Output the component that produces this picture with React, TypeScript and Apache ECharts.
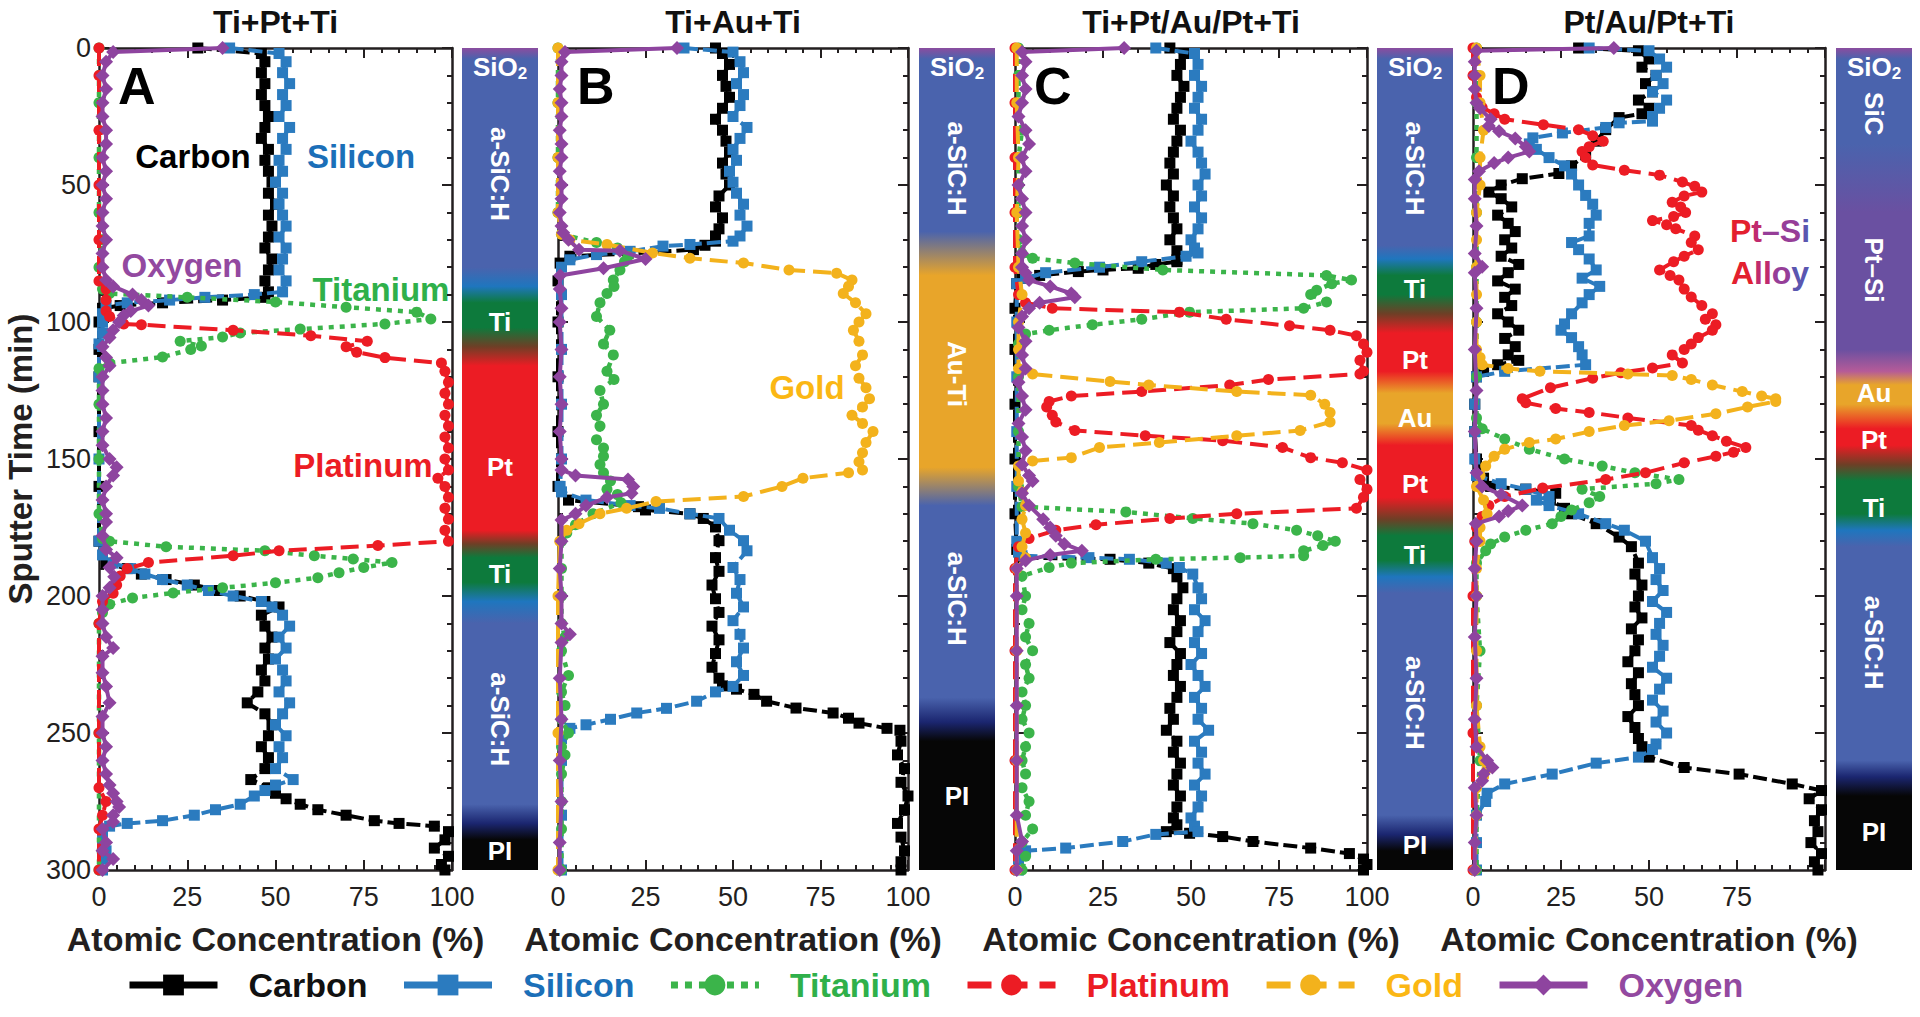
import React, { useEffect, useRef } from 'react';
import * as echarts from 'echarts';

type Pt = [number, number]; // [sputter time (min), atomic concentration (%)]

// ---------------- Panel A : Ti+Pt+Ti ----------------
const A_carbon: Pt[] = [[0,28],[2,46],[5,47],[9,46],[13,47],[17,46],[21,47],[25,48],[29,47],[33,46],[37,48],[41,47],[45,48],[49,49],[53,48],[57,50],[61,48],[65,49],[69,48],[73,47],[77,49],[81,48],[85,47],[89,48],[91,47],[92,35],[93,18],[94,6],[95,1],[100,0],[110,0],[120,0],[140,0],[160,0],[180,0],[188,2],[190,8],[192,12],[194,19],[196,27],[198,34],[200,40],[202,47],[204,51],[207,46],[211,47],[215,49],[219,47],[223,48],[227,46],[231,47],[235,45],[239,42],[243,47],[247,49],[251,48],[255,46],[259,48],[263,47],[267,43],[270,48],[272,50],[274,53],[276,57],[278,62],[280,70],[282,78],[283,85],[284,95],[286,99],[289,98],[292,95],[295,99],[298,97],[300,98]];
const A_silicon: Pt[] = [[0,37],[2,51],[5,53],[9,52],[13,54],[17,52],[21,53],[25,51],[29,54],[33,52],[37,53],[41,51],[45,52],[49,50],[53,52],[57,51],[61,52],[65,53],[69,51],[73,53],[77,52],[81,51],[85,53],[89,52],[90,44],[91,30],[92,20],[93,8],[94,2],[97,1],[100,1],[104,1],[108,0],[120,0],[150,0],[180,0],[185,1],[188,4],[190,9],[192,13],[194,18],[196,25],[198,31],[200,38],[202,46],[204,49],[207,52],[211,54],[215,51],[219,53],[223,50],[227,52],[231,53],[235,51],[239,54],[243,52],[247,50],[251,53],[255,51],[259,52],[263,50],[267,55],[269,50],[271,47],[273,44],[276,40],[278,33],[280,27],[282,18],[283,8],[284,3],[286,1],[290,1],[293,2],[296,1],[300,1]];
const A_titanium: Pt[] = [[0,0],[20,0],[40,0],[60,0],[70,1],[80,0],[88,1],[89.6,3],[91,25],[92.7,50],[94.6,70],[96.4,90],[98.9,94],[100.7,81],[102.6,57],[104,40],[105.5,35],[107,23],[108.8,29],[110,26],[112.8,18],[115,3],[117,0],[130,0],[150,0],[170,0],[179,1],[180,3],[182,19],[183.5,47],[185.3,61],[186.5,72],[187.8,83],[189.6,75],[191.5,68],[193.3,62],[195.2,50],[197,35],[198.9,21],[200.7,9.5],[203,3],[206,1],[210,0],[250,0],[300,0]];
const A_platinum: Pt[] = [[0,0],[10,0],[30,0],[50,0],[70,0],[85,0],[88,2],[92,2],[96,2],[98,3],[100.7,7],[101,12],[103,38],[105,60],[107,76],[109,70],[111,73],[113,81],[115,97],[118,98],[122,99],[126,98],[130,99],[134,98],[138,99],[142,98],[146,99],[150,98],[154,99],[157,96],[160,98],[164,99],[168,98],[172,99],[176,98],[180,99],[181.6,79],[183.5,51],[185.3,38],[187.8,14],[190,8],[192.7,6],[196,5],[199,4],[202,1],[210,0],[250,0],[270,0],[275,2],[280,1],[285,0],[300,0]];
const A_oxygen: Pt[] = [[0,35],[1.5,4],[5,2],[10,1],[15,2],[20,1],[25,1],[30,2],[35,2],[40,1],[45,2],[50,1],[55,2],[60,1],[65,1],[70,2],[75,1],[80,1],[84.7,2],[87,4],[90,9.5],[92,12],[94,14],[96,9],[97.6,7],[100,5.7],[103,4],[105.7,3],[109,1],[113,2],[116,3],[120,1],[125,1],[130,1],[135,2],[140,1],[145,1],[150,3],[153,5],[156,4],[160,2],[165,1],[170,2],[173,2],[178,1],[183,2],[186,5],[189.6,3],[193,4.3],[197,3],[200,1],[205,1],[210,1],[215,2],[219,4],[222,1],[228,1],[233,2],[239,3],[244,1],[250,1],[255,2],[260,1],[265,2],[269,3],[272,4],[275,5],[277,5.7],[280,4],[282.5,4],[285,1],[290,2],[293,1],[296,4],[300,1]];

// ---------------- Panel B : Ti+Au+Ti ----------------
const B_carbon: Pt[] = [[0,45],[2,47],[6,49],[10,47],[14,48],[18,49],[22,47],[26,45],[30,47],[34,48],[38,49],[42,47],[46,48],[50,49],[54,46],[58,45],[62,47],[66,46],[68.6,45],[70.5,45],[72,42],[73.6,38.7],[75,20],[76,3.4],[78.5,0.6],[85,0],[100,0],[120,0],[140,0],[160,0],[165,3],[167.4,23],[168.6,25],[170,37.7],[171.7,41.5],[174.8,45],[179.8,46],[186,45],[191,46],[196,44],[201,45],[206,46],[211,44],[216,46],[221,45],[226,44],[230,46],[232.8,47],[234,51],[235.9,56],[238.4,59.6],[240.9,68],[242.7,78.6],[244.6,83],[246.4,86],[248.3,94],[249,97.7],[253,98],[258,97],[263,99],[268,98],[273,100],[278,99],[283,97],[288,98],[293,99],[297,98],[300,98]];
const B_silicon: Pt[] = [[0,36],[1.5,50],[5,52],[9,53],[13,51],[17,53],[21,52],[25,50],[29,54],[33,52],[37,50],[41,51],[45,49],[49,50],[53,51],[57,53],[61,52],[65,54],[68.6,52],[70.5,50],[71.7,37.7],[72.3,30],[74.2,20.6],[75.4,11],[77.3,3.4],[80,1],[90,1],[110,1],[130,1],[150,1],[160,0.6],[162,1],[165,8],[167,20.6],[168,29],[170,37.7],[171.7,46],[176,49],[179.8,53],[183.5,54],[189.6,50],[194,52],[199,51],[204,53],[209,50],[214,52],[219,53],[224,51],[229,53],[233,50],[235,45],[238.4,39.6],[241,31],[242.7,22.5],[245,15],[247,8],[248.3,3.4],[252,1],[260,1],[280,1],[300,1]];
const B_titanium: Pt[] = [[0,0],[20,0],[40,0],[60,0],[68,1],[71,11],[73,17],[76,20],[78,19],[81,17.7],[84.7,15.8],[87,16],[89.6,14],[93,12],[98,11],[103,14.8],[108,13],[112,15.8],[118,14],[121,16],[125,12],[130,13],[134,11],[138,12],[143,11],[146,13],[149,13],[152,12],[155,13],[158,15],[161,14],[163,17],[166,18],[170,10],[174,5],[177,2.5],[180,1],[190,1],[200,1],[210,1],[215,2],[220,1],[229,3],[235,1],[240,2],[245,1],[250,3],[255,1],[258,2],[265,1],[275,1],[285,1],[300,1]];
const B_gold: Pt[] = [[0,0],[20,0],[40,0],[60,0],[68,1],[70,3.4],[71.7,14],[74.8,27],[76.7,37.7],[78.5,53],[81,66],[82.2,79.6],[84.7,84],[87,83],[89.6,81.5],[93,85],[97,88],[100,86],[103,84.4],[107,86],[112,87],[116,85],[120.5,86],[124,88],[128,89],[131,87],[134,84],[137,87],[140,90],[144,88],[147.7,87],[151,86],[154,87],[155,83],[157,70],[160,64],[163.7,53],[165.5,28],[168,19.6],[170,12],[173.6,6],[176,2.5],[180,0.5],[200,0],[250,0],[300,0]];
const B_oxygen: Pt[] = [[0,34],[1.5,2],[5,1],[10,1],[15,0.5],[20,1],[25,1],[30,0.5],[35,1],[40,1],[45,0.5],[50,1],[55,1],[60,0.5],[65,1],[67.4,1.5],[70,3],[73.6,6],[74,17.7],[77,25],[80.4,13],[83,0.6],[88,0.5],[95,1],[100,0.5],[110,1],[120,0.5],[130,1],[140,0.5],[150,1],[154,1],[156,5],[157.5,20],[160,21.5],[162.5,21],[164,14],[167,8],[170,5],[172.3,1],[180,1],[190,0.5],[200,1],[210,1],[214,3.4],[217,1],[230,0.5],[245,1],[260,0.5],[275,1],[290,0.5],[300,0.5]];

// ---------------- Panel C : Ti+Pt/Au/Pt+Ti ----------------
const C_carbon: Pt[] = [[0,44],[2,48],[6,47],[10,46],[14,48],[18,47],[22,46],[26,45],[30,47],[34,46],[38,45],[42,44],[46,45],[50,43],[54,45],[58,44],[62,45],[66,46],[70,44],[74,46],[77.3,46],[78,46],[79,40],[80.4,35],[81,25],[81.6,18],[83,7],[84,2],[86,0.5],[95,0],[110,0],[130,0],[150,0],[170,0],[183,0.5],[186,2],[186.6,27],[188,38],[190,45],[193,46],[197,47.7],[201,46],[205,45],[209,47],[213,46],[217,44],[221,47],[225,46],[229,45],[233,47],[237,46],[241,44],[245,45],[249,43],[253,46],[257,45],[261,47],[265,46],[269,45],[273,47],[277,46],[281,45],[283.5,46],[286,43],[286.6,49.6],[287.8,59],[289.6,67.6],[292,84],[294,95],[296,99],[298,100],[300,99]];
const C_silicon: Pt[] = [[0,40],[2,51],[6,52],[10,51],[14,53],[18,52],[22,51],[26,53],[30,52],[34,50],[38,52],[42,53],[46,54],[50,52],[54,53],[58,51],[62,53],[66,52],[70,50],[73,51],[74.8,52],[76,48.6],[78,36],[80,24],[82,8.7],[84,3],[86,0.5],[100,0.5],[120,0.5],[140,0.5],[160,0.5],[180,0.5],[184,1],[185.3,2],[186,21],[186.6,32.5],[188,43],[189.6,46.7],[192,50.5],[197,52],[201,53],[205,51],[209,54],[213,52],[217,51],[221,53],[225,50],[229,52],[233,54],[237,51],[241,53],[245,52],[249,55],[253,51],[257,53],[261,52],[265,54],[269,51],[273,53],[277,52],[281,50],[284,51],[286,52],[287,40],[289.6,30.6],[292,14.4],[293,3],[296,1],[300,1]];
const C_titanium: Pt[] = [[0,1],[10,1],[20,1],[30,2],[40,1],[50,1],[60,1],[70,1],[75,2],[76.7,5],[78.5,17],[81,42],[83,88.5],[84.7,95.6],[86,90],[88.4,85.7],[90,84],[92.7,88.5],[95,82],[96.4,49.6],[99,36],[101,22],[103,9.7],[104.4,3],[108,1],[120,1],[140,1],[160,1],[167.4,2],[169.3,31.5],[171.7,50.5],[173.6,67.6],[176,80],[178,86],[180,91],[181.6,87.5],[183.5,82],[185.3,82],[186,64],[186.6,40],[188,16],[189.6,9.7],[192.7,2],[200,3],[205,2],[210,4],[215,3],[220,5],[225,3],[230,4],[235,2],[240,3],[245,2],[250,4],[255,3],[260,2],[265,3],[270,2],[275,4],[280,3],[285,5],[290,2],[295,3],[300,2]];
const C_platinum: Pt[] = [[0,0],[20,0],[40,0],[60,0],[80,0],[90,1],[93,3],[95,10.6],[96.4,46.7],[99,60],[101.4,78],[103,89.5],[105,97],[108,99],[111,100],[114,98],[118,99],[119,98],[121,72],[123,61],[125.4,36],[127,16],[129,9.7],[131,9],[134,10.6],[136.5,11.6],[139.6,17],[141.5,37],[143.3,59],[145.8,76],[149.5,84],[151.4,93],[154,100],[157.5,98],[161,100],[164,99],[168,97],[170,63],[171.7,44],[174,23],[176,11.6],[179,4],[182,1],[190,0],[220,0],[260,0],[300,0]];
const C_gold: Pt[] = [[0,0.5],[20,0.5],[40,1],[60,0.5],[80,1],[90,2],[100,1],[110,1],[117,1],[119,5],[121.7,27],[123,38],[125.4,63],[126.7,84],[130,88],[133,89.5],[136.5,89.5],[139.6,81],[141.5,63],[144,41],[145.8,24],[149.5,16],[150.7,5],[152.6,1],[158,1],[162,2],[167,3],[172,2],[177,3],[182,2],[186,3],[190,0.5],[220,0.5],[260,0.5],[300,0.5]];
const C_oxygen: Pt[] = [[0,31],[1.5,2],[5,3],[10,2],[15,3],[20,2],[25,1],[30,3],[35,4],[40,2],[45,3],[50,1],[55,2],[60,3],[65,2],[70,3],[75,2],[80,2],[82,3],[84.7,4],[87,10],[89.6,16],[91,17],[93,7],[95,4],[98,2],[102,1],[107,3],[112,2],[117,3],[122,1],[127,2],[132,3],[137,1],[142,2],[147,3],[152,2],[156,4],[158,5],[162.5,2],[167,4],[172,8],[175,10],[178,11.6],[181,14],[183.5,19],[185,10],[187,3],[190,0.5],[200,0.5],[220,0.5],[240,0.5],[260,0.5],[280,0.5],[289.6,2],[293,0.5],[300,0.5]];

// ---------------- Panel D : Pt/Au/Pt+Ti ----------------
const D_carbon: Pt[] = [[0,30],[1,47],[4,50],[7,48],[10,52],[13,49],[16,51],[19,47],[22,50],[24,48],[25.4,41.5],[29.8,37.7],[34,35],[39,32],[43,28],[45.8,24.4],[47.7,14],[50,8],[52.6,4.5],[55,8],[58,11],[61,7],[64,10],[67,12],[70,9],[73,11],[76,8],[79,13],[82,10],[85,7],[88,12],[91,9],[94,11],[97,7],[100,10],[103,13],[106,9],[109,12],[112,10],[114,13],[115.6,7],[118,3],[120,1],[130,0.5],[140,0.5],[150,1],[157,3],[160,5],[161,15],[162.5,23.5],[165,22],[168,26],[170,28],[173.6,35],[178.5,41.5],[182,45],[188,47],[192,46],[196,48],[200,47],[204,46],[208,48],[212,45],[216,47],[220,46],[224,44],[228,47],[232,45],[236,46],[240,47],[244,44],[248,46],[252,47],[255,48],[258.8,50],[262.6,60],[265,75.6],[268.6,90.7],[271,99],[274,95.5],[278,99],[282,97],[286,98],[290,96],[294,99],[297,97],[300,98]];
const D_silicon: Pt[] = [[0,33],[1,50],[4,53],[7,55],[10,52],[13,54],[16,51],[19,55],[22,53],[25,51],[26.7,51],[27.3,41.5],[29,37.7],[31,25.4],[32.8,17],[35,16],[37,18],[40,21.6],[43,26],[46,28],[50,30],[53.8,32],[57,34],[61,35],[64,33],[68.6,33],[71,28],[73.6,30],[77,33],[81,35],[84,31],[87,36],[90,33],[93,31],[97,28],[100.7,26],[103,25],[105.7,28],[109,30],[112,31],[115.6,32],[118,9],[120,1],[130,0.5],[140,0.5],[150,0.5],[156,1],[159,8],[161,15],[163.7,21.6],[165,18],[167,21.6],[170,30],[173.6,37.7],[176,43],[180,49],[186,51],[190,53],[194,52],[198,54],[202,51],[206,55],[210,53],[214,52],[218,54],[222,53],[226,51],[230,55],[234,53],[238,51],[242,54],[246,52],[250,55],[254,52],[256,51],[258.8,47],[261,35],[265,22.5],[268.6,9],[272,4],[275,3.6],[280,1],[290,1],[300,1]];
const D_titanium: Pt[] = [[0,1],[20,1],[40,1],[60,1],[80,1],[100,1],[120,1],[135,1],[139,2.6],[142.7,9],[146.4,16],[150,26],[152.6,36.7],[155,46],[157.5,58.5],[159,52],[161,31],[163.7,36],[166,33],[168.6,28],[171,25],[173.6,22.5],[176,15],[178.5,9],[181,5],[183.5,3.6],[188,1],[200,1],[220,2],[240,1],[260,2],[280,1],[300,1]];
const D_platinum: Pt[] = [[0,0],[10,0],[18,1],[21.7,2.6],[24,6],[26,9],[28,20],[29.8,30],[32,34],[34,37],[36,33],[37.8,31],[40,32],[42.7,34],[44.6,43],[46.4,53],[48.9,59.5],[50.5,63],[52.6,65],[54,60],[56.3,56.6],[58,59],[60,60.4],[61.5,57],[63,51],[64.5,55],[66,57.6],[68.6,63],[71,62],[73.6,64],[76,60],[78,57],[81,53],[83,56],[84.7,58.5],[88,60],[90.9,62],[94,65],[97,68],[99,66],[101,69],[103,68],[105.7,64],[108,62],[110,60],[112,56.6],[115,59.5],[116.8,51],[118.5,42],[120.5,34],[124,22],[128,14],[129.5,15],[131.6,23.5],[133,33],[135,44],[137.8,62],[139.5,64],[141.5,68],[143.5,72],[145.8,77.5],[147.5,74],[149,69],[151.4,60],[155,49],[157.5,37.7],[160.6,19.8],[163.7,9],[167,4.5],[171,2.6],[175,1],[180,0.5],[200,0],[250,0],[300,0]];
const D_gold: Pt[] = [[0,1],[10,2],[20,2],[30,3],[40,2],[50,2],[60,1],[70,1],[80,1],[90,1],[100,1],[110,1],[113,2],[115.6,2.6],[117,10],[118,19],[119,44],[119.5,56.6],[121,62],[123,68],[125.4,76.5],[127,82],[128,86],[129,86],[131,78],[133.5,69],[136,55.7],[137.8,43],[140,33],[142.7,23.5],[144,16],[146.4,9],[149,6],[152.6,3.6],[156,2],[160,1],[165,3],[170,4],[175,2],[180,2],[190,1],[200,1],[220,1],[240,1],[255,2],[260,3],[263,4],[266,3],[270,1],[280,1],[300,0.5]];
const D_oxygen: Pt[] = [[0,40],[1,1],[5,0.5],[10,0.5],[15,0.5],[20,1],[22,2],[26,5],[28.5,4.5],[30.4,7.4],[33,12],[36,15],[37.8,16],[40,10],[42,6],[45,1.7],[48,0.5],[55,0.5],[65,1],[75,0.5],[79.8,2.6],[82,0.5],[95,1],[110,0.5],[125,1],[140,0.5],[155,1],[160,2.6],[163,8],[167,14],[169,10],[171,7.4],[173.6,0.8],[180,1],[190,0.5],[200,1],[215,0.5],[230,1],[245,0.5],[255,1],[260,4],[262.6,5.5],[265,3],[267.4,2.6],[270,0.5],[280,1],[290,0.5],[300,0.5]];

// ---------------- Categories / labels ----------------
const ELEMENTS = ['Carbon', 'Silicon', 'Titanium', 'Platinum', 'Gold', 'Oxygen'];
const PANEL_TITLES = ['Ti+Pt+Ti', 'Ti+Au+Ti', 'Ti+Pt/Au/Pt+Ti', 'Pt/Au/Pt+Ti'];
const PANEL_LETTERS = ['A', 'B', 'C', 'D'];
const PANEL_SERIES: (Pt[] | null)[][] = [
  [A_carbon, A_silicon, A_titanium, A_platinum, null, A_oxygen],
  [B_carbon, B_silicon, B_titanium, null, B_gold, B_oxygen],
  [C_carbon, C_silicon, C_titanium, C_platinum, C_gold, C_oxygen],
  [D_carbon, D_silicon, D_titanium, D_platinum, D_gold, D_oxygen],
];
const X_MIN = 0, X_MAX = 100, X_INTERVAL = 25;
const Y_MIN = 0, Y_MAX = 300, Y_INTERVAL = 50;

// Layer stack colour bars: [sputter time, colour]
const COL = { sio2: '#8b4d9f', sic: '#4a63ad', lblue: '#1f76be', green: '#0d7a3c', brown: '#6e3f26', red: '#ec1c24', orange: '#e8a52a', navy: '#1b2670', black: '#060606', ptsi: '#6a50a1', pink: '#b55b98' };
const A_layers: [number, string][] = [[0, COL.sio2], [4, COL.sic], [80, COL.sic], [87, COL.lblue], [93, COL.green], [102, COL.green], [109, COL.brown], [116, COL.red], [176, COL.red], [181, COL.brown], [186, COL.green], [195, COL.green], [202, COL.lblue], [210, COL.sic], [276, COL.sic], [283, COL.navy], [289, COL.black], [300, COL.black]];
const B_layers: [number, string][] = [[0, COL.sio2], [4, COL.sic], [67, COL.sic], [83, COL.orange], [153, COL.orange], [167, COL.sic], [237, COL.sic], [246, COL.navy], [253, COL.black], [300, COL.black]];
const C_layers: [number, string][] = [[0, COL.sio2], [4, COL.sic], [72, COL.sic], [77, COL.lblue], [83, COL.green], [90, COL.green], [97, COL.brown], [104, COL.red], [118, COL.red], [126, COL.orange], [137, COL.orange], [145, COL.red], [164, COL.red], [172, COL.brown], [178, COL.green], [187, COL.green], [193, COL.lblue], [199, COL.sic], [280, COL.sic], [287, COL.navy], [293, COL.black], [300, COL.black]];
const D_layers: [number, string][] = [[0, COL.sio2], [4, COL.sic], [35, COL.sic], [60, COL.ptsi], [110, COL.ptsi], [118, COL.pink], [123, COL.orange], [130, COL.orange], [139, COL.red], [145, COL.red], [152, COL.brown], [158, COL.green], [170, COL.green], [176, COL.lblue], [182, COL.sic], [260, COL.sic], [266, COL.navy], [273, COL.black], [300, COL.black]];
// [text, time, rotated]
const A_layerLabels: [string, number, boolean][] = [['SiO2', 7, false], ['a-SiC:H', 46, true], ['Ti', 100, false], ['Pt', 153, false], ['Ti', 192, false], ['a-SiC:H', 245, true], ['PI', 293, false]];
const B_layerLabels: [string, number, boolean][] = [['SiO2', 7, false], ['a-SiC:H', 44, true], ['Au-Ti', 119, true], ['a-SiC:H', 201, true], ['PI', 273, false]];
const C_layerLabels: [string, number, boolean][] = [['SiO2', 7, false], ['a-SiC:H', 44, true], ['Ti', 88, false], ['Pt', 114, false], ['Au', 135, false], ['Pt', 159, false], ['Ti', 185, false], ['a-SiC:H', 239, true], ['PI', 291, false]];
const D_layerLabels: [string, number, boolean][] = [['SiO2', 7, false], ['SiC', 24, true], ['Pt\u2013Si', 81, true], ['Au', 126, false], ['Pt', 143, false], ['Ti', 168, false], ['a-SiC:H', 217, true], ['PI', 286, false]];
const PANEL_LAYERS = [A_layers, B_layers, C_layers, D_layers];
const PANEL_LAYER_LABELS = [A_layerLabels, B_layerLabels, C_layerLabels, D_layerLabels];

// ---------------- Styles / layout ----------------
const FONT = '"Liberation Sans", Arial, Helvetica, sans-serif';
const INK = '#231f20';
const STYLE: Record<string, { color: string; text: string; symbol: string; size: number; dash: any; legendDash: any; width: number }> = {
  Carbon: { color: '#000000', text: '#111111', symbol: 'rect', size: 11, dash: [14, 5], legendDash: 'solid', width: 4 },
  Silicon: { color: '#2b7bbf', text: '#1b6fb8', symbol: 'rect', size: 11, dash: [14, 5], legendDash: 'solid', width: 4 },
  Titanium: { color: '#3bb44a', text: '#2fb04a', symbol: 'circle', size: 11, dash: [5, 6], legendDash: [7, 7], width: 4.5 },
  Platinum: { color: '#ec1c24', text: '#ec1c24', symbol: 'circle', size: 11, dash: [18, 8], legendDash: [24, 12], width: 4 },
  Gold: { color: '#f3b21c', text: '#fbb714', symbol: 'circle', size: 11, dash: [18, 8], legendDash: [24, 12], width: 4 },
  Oxygen: { color: '#8e449f', text: '#9349a0', symbol: 'diamond', size: 14, dash: 'solid', legendDash: 'solid', width: 4 },
};
const PLOTS = [{ left: 99, width: 353 }, { left: 558, width: 350 }, { left: 1015, width: 352 }, { left: 1473, width: 352 }];
const BARS = [{ left: 462, width: 76 }, { left: 919, width: 76 }, { left: 1377, width: 76 }, { left: 1836, width: 76 }];
const TOP = 48, HEIGHT = 822;

function buildOption(): any {
  const grid: any[] = [];
  const xAxis: any[] = [];
  const yAxis: any[] = [];
  const series: any[] = [];
  const lineAx = { show: true, onZero: false, lineStyle: { color: INK, width: 2.5 } };
  const tick = { show: true, inside: true, length: 10, lineStyle: { color: INK, width: 2 } };
  const minor = { show: true, splitNumber: 5, length: 5, lineStyle: { color: INK, width: 2 } };

  PLOTS.forEach((p, i) => {
    grid.push({ left: p.left, width: p.width, top: TOP, height: HEIGHT });
    xAxis.push({
      gridIndex: i, type: 'value', position: 'bottom', min: X_MIN, max: X_MAX, interval: X_INTERVAL,
      axisLine: lineAx, axisTick: tick, minorTick: minor, splitLine: { show: false },
      axisLabel: { fontSize: 27, color: INK, fontFamily: FONT, margin: 13, showMaxLabel: i !== 3 },
      name: 'Atomic Concentration (%)', nameLocation: 'middle', nameGap: 52,
      nameTextStyle: { fontSize: 34, fontWeight: 'bold', color: INK, fontFamily: FONT },
    });
    xAxis.push({
      gridIndex: i, type: 'value', position: 'top', min: X_MIN, max: X_MAX, interval: X_INTERVAL,
      axisLine: lineAx, axisTick: tick, minorTick: minor, splitLine: { show: false }, axisLabel: { show: false },
    });
    yAxis.push({
      gridIndex: i, type: 'value', position: 'left', inverse: true, min: Y_MIN, max: Y_MAX, interval: Y_INTERVAL,
      axisLine: lineAx, axisTick: tick, minorTick: minor, splitLine: { show: false },
      axisLabel: { show: i === 0, fontSize: 27, color: INK, fontFamily: FONT, margin: 8 },
      name: i === 0 ? 'Sputter Time (min)' : '', nameLocation: 'middle', nameGap: 62,
      nameTextStyle: { fontSize: 33, fontWeight: 'bold', color: INK, fontFamily: FONT },
    });
    yAxis.push({
      gridIndex: i, type: 'value', position: 'right', inverse: true, min: Y_MIN, max: Y_MAX, interval: Y_INTERVAL,
      axisLine: lineAx, axisTick: tick, minorTick: minor, splitLine: { show: false }, axisLabel: { show: false },
    });
    PANEL_SERIES[i].forEach((arr, k) => {
      if (!arr) return;
      const name = ELEMENTS[k];
      const s = STYLE[name];
      series.push({
        name, type: 'line', xAxisIndex: i * 2, yAxisIndex: i * 2, clip: false,
        data: arr.map(([t, c]) => [c, t]),
        symbol: s.symbol, symbolSize: s.size, showSymbol: true,
        itemStyle: { color: s.color },
        lineStyle: { color: s.color, width: s.width, type: s.dash },
        emphasis: { disabled: true }, silent: true, z: 2 + k,
      });
    });
  });

  BARS.forEach((b, j) => {
    const gi = PLOTS.length + j;
    grid.push({ left: b.left, width: b.width, top: TOP, height: HEIGHT });
    xAxis.push({ gridIndex: gi, type: 'value', min: 0, max: 1, show: false });
    yAxis.push({ gridIndex: gi, type: 'value', min: Y_MIN, max: Y_MAX, inverse: true, show: false });
    const stops = PANEL_LAYERS[j];
    const labels = PANEL_LAYER_LABELS[j];
    series.push({
      type: 'custom', xAxisIndex: 2 * PLOTS.length + j, yAxisIndex: 2 * PLOTS.length + j, silent: true,
      data: [[0, 0]],
      renderItem: (_params: any, api: any) => {
        const p0 = api.coord([0, Y_MIN]);
        const p1 = api.coord([1, Y_MAX]);
        const children: any[] = [{
          type: 'rect',
          shape: { x: p0[0], y: p0[1], width: p1[0] - p0[0], height: p1[1] - p0[1] },
          style: { fill: new echarts.graphic.LinearGradient(0, 0, 0, 1, stops.map(([t, c]) => ({ offset: (t - Y_MIN) / (Y_MAX - Y_MIN), color: c }))) },
        }];
        labels.forEach(([txt, t, rot]) => {
          const c = api.coord([0.5, t]);
          const isSio2 = txt === 'SiO2';
          children.push({
            type: 'text', x: c[0], y: c[1], rotation: rot ? -Math.PI / 2 : 0,
            style: {
              text: isSio2 ? '{m|SiO}{s|2}' : txt,
              fill: '#ffffff', fontSize: 26, fontWeight: 'bold', fontFamily: FONT,
              align: 'center', verticalAlign: 'middle',
              rich: isSio2 ? {
                m: { fill: '#ffffff', fontSize: 26, fontWeight: 'bold', fontFamily: FONT, lineHeight: 30 },
                s: { fill: '#ffffff', fontSize: 17, fontWeight: 'bold', fontFamily: FONT, lineHeight: 17, verticalAlign: 'bottom' },
              } : undefined,
            },
          });
        });
        return { type: 'group', children };
      },
    });
  });

  const graphic: any[] = [];
  PLOTS.forEach((p, i) => {
    graphic.push({ type: 'text', x: p.left + p.width / 2, y: 22, style: { text: PANEL_TITLES[i], fill: '#111', font: `bold 32px ${FONT}`, align: 'center', verticalAlign: 'middle' } });
    graphic.push({ type: 'text', x: p.left + 19, y: 86, style: { text: PANEL_LETTERS[i], fill: '#000', font: `bold 52px ${FONT}`, align: 'left', verticalAlign: 'middle' } });
  });
  const ann = (text: string, x: number, y: number, fill: string) => ({ type: 'text', x, y, style: { text, fill, font: `bold 33px ${FONT}`, align: 'center', verticalAlign: 'middle' } });
  graphic.push(ann('Carbon', 193, 156, '#000'));
  graphic.push(ann('Silicon', 361, 156, STYLE.Silicon.text));
  graphic.push(ann('Oxygen', 182, 265, STYLE.Oxygen.text));
  graphic.push(ann('Titanium', 381, 289, STYLE.Titanium.text));
  graphic.push(ann('Platinum', 363, 465, STYLE.Platinum.text));
  graphic.push(ann('Gold', 807, 387, STYLE.Gold.text));
  const rs = (fill: string) => ({ fill, fontSize: 32, fontWeight: 'bold', fontFamily: FONT });
  const richAlloy = { r: rs('#e3202e'), m: rs('#c02a6e'), p: rs('#963e98'), b: rs('#5a56b0') };
  graphic.push({ type: 'text', x: 1770, y: 231, style: { text: '{r|P}{m|t}{p|\u2013S}{b|i}', rich: richAlloy, align: 'center', verticalAlign: 'middle' } });
  graphic.push({ type: 'text', x: 1770, y: 273, style: { text: '{r|A}{m|ll}{p|o}{b|y}', rich: richAlloy, align: 'center', verticalAlign: 'middle' } });

  return {
    animation: false,
    backgroundColor: '#ffffff',
    textStyle: { fontFamily: FONT },
    grid, xAxis, yAxis, series, graphic,
    legend: {
      left: 126, top: 968, orient: 'horizontal', selectedMode: false, padding: 0,
      itemWidth: 88, itemHeight: 26, itemGap: 33,
      lineStyle: { width: 7 },
      textStyle: { fontSize: 34, fontWeight: 'bold', fontFamily: FONT, padding: [0, 0, 0, 26] },
      data: ELEMENTS.map((n) => ({ name: n, textStyle: { color: STYLE[n].text }, lineStyle: { type: STYLE[n].legendDash, width: 7 } })),
    },
  };
}

export default function App() {
  const ref = useRef<HTMLDivElement>(null);
  useEffect(() => {
    document.body.style.margin = '0';
    document.body.style.overflow = 'hidden';
    const chart = echarts.init(ref.current!, null, { renderer: 'svg' });
    chart.setOption(buildOption());
    return () => chart.dispose();
  }, []);
  return <div ref={ref} style={{ width: 1920, height: 1017 }} />;
}
